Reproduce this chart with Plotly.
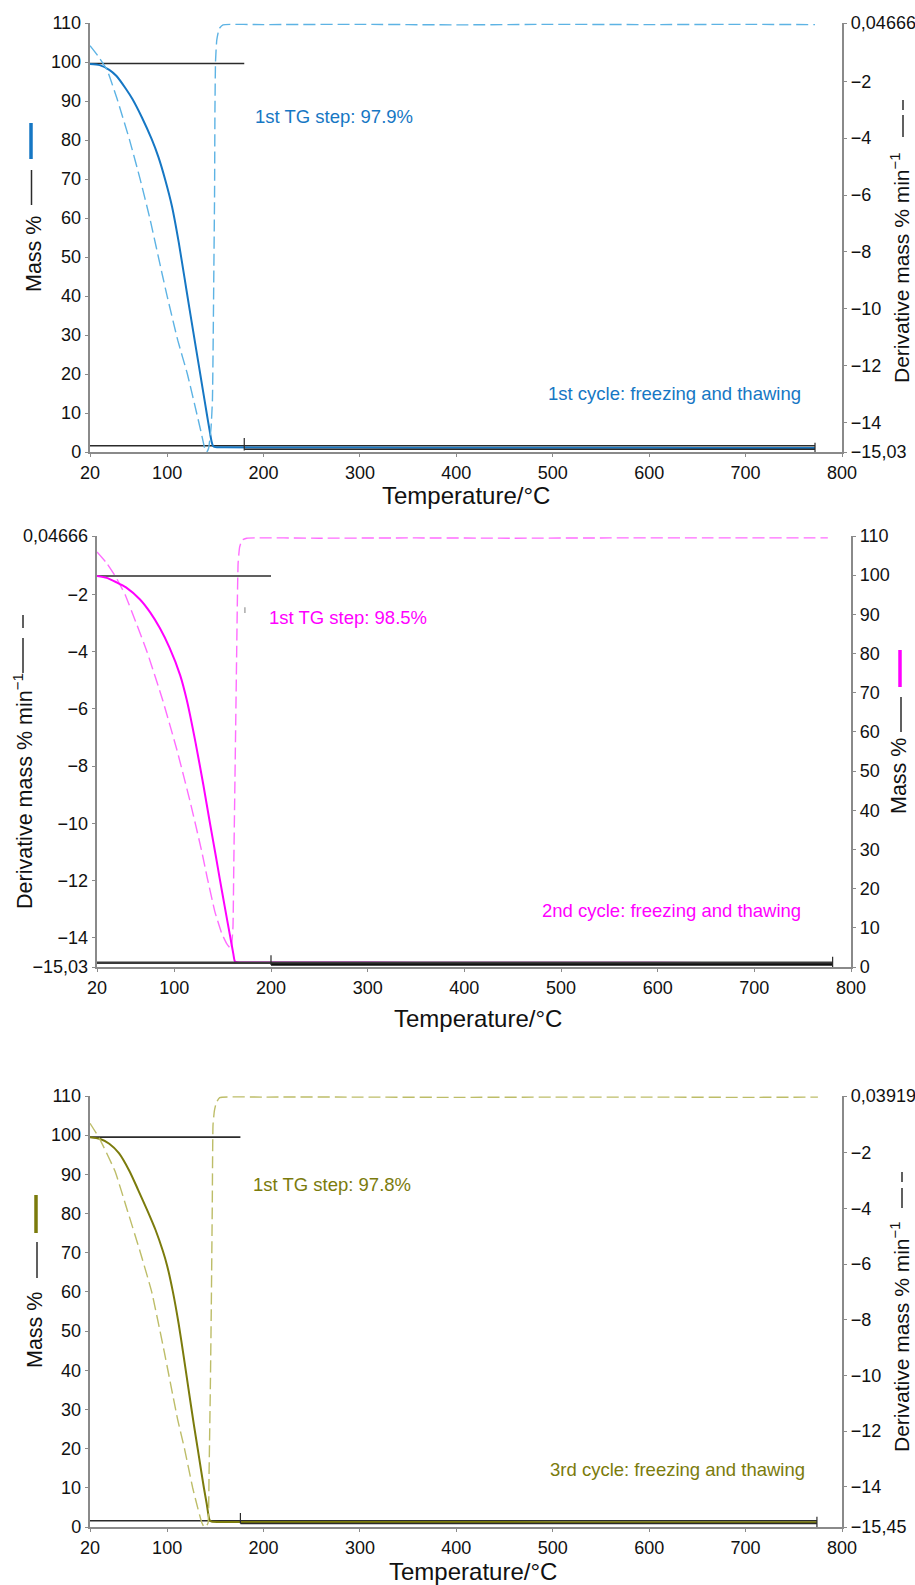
import plotly.graph_objects as go

W, H = 915, 1585

# ---------------- data ----------------
x_ticks = [20, 100, 200, 300, 400, 500, 600, 700, 800]
mass_ticks = [0, 10, 20, 30, 40, 50, 60, 70, 80, 90, 100, 110]

# Panel 1 (1st cycle)
p1_tg_T = [20, 30, 40, 47.5, 57, 64, 74, 84, 91, 98, 105, 112, 118, 123, 127.6, 133, 137, 141, 144, 146, 147.5, 150, 160, 250, 350, 450, 550, 650, 772]
p1_tg = [99.5, 99.2, 98.0, 96.4, 93.2, 90.5, 85.7, 80.2, 75.6, 69.8, 63.0, 53.8, 44.7, 37.0, 30.1, 22.0, 16.0, 10.0, 5.6, 2.8, 1.6, 1.25, 1.2, 1.15, 1.1, 1.1, 1.1, 1.05, 1.05]
p1_dtg_T = [20, 28, 37.6, 48, 61, 72, 82, 95, 100, 111, 121, 130.6, 135, 139, 141, 143, 145.5, 147, 147.8, 148.5, 149.2, 149.6, 150.2, 151.5, 154, 158, 200, 300, 400, 500, 600, 700, 772]
p1_dtg = [-0.75, -1.1, -1.6, -2.61, -4.06, -5.44, -6.81, -8.8, -9.55, -11.1, -12.29, -13.66, -14.3, -14.9, -15.03, -14.9, -14.2, -13.2, -11.0, -8.5, -6.0, -3.0, -1.3, -0.55, -0.15, -0.02, -0.01, 0.0, -0.02, 0.0, -0.01, 0.0, -0.01]
p1_dtg_ticks = [0.04666, -2, -4, -6, -8, -10, -12, -14, -15.03]
p1_dtg_ticktext = ["0,04666", "\u22122", "\u22124", "\u22126", "\u22128", "\u221210", "\u221212", "\u221214", "\u221215,03"]
p1_dtg_range = [-15.03, 0.04666]
p1_step_top_T = [20, 180]
p1_step_top = [99.6, 99.6]
p1_step_base_T = [20, 772]
p1_step_base = [1.6, 1.6]
p1_step_res_T = [180, 772]
p1_step_res = [0.7, 0.7]
p1_mark_a_T = [180, 180]
p1_mark_a = [0.4, 3.6]
p1_mark_b_T = [772, 772]
p1_mark_b = [0.0, 2.4]
p1_step_label = "1st TG step: 97.9%"
p1_cycle_label = "1st cycle: freezing and thawing"

# Panel 2 (2nd cycle)
p2_tg_T = [20, 30, 40, 50, 64.5, 75, 85, 95, 106, 113, 122, 130, 137, 143, 147, 152, 157.6, 161, 162.7, 165, 180, 250, 350, 450, 550, 650, 781]
p2_tg = [99.8, 99.3, 98.2, 96.9, 93.8, 90.5, 86.5, 81.5, 74.5, 68.0, 57.2, 46.5, 36.5, 28.2, 22.5, 15.6, 8.0, 3.4, 1.4, 1.2, 1.15, 1.15, 1.1, 1.1, 1.1, 1.05, 1.05]
p2_dtg_T = [20, 30, 40, 49, 60, 71.7, 88, 102.7, 116, 128, 134, 142, 149, 154, 158.6, 159.5, 160.7, 161.5, 162.5, 163.5, 164.5, 165.3, 166, 167.5, 170, 175, 250, 350, 450, 550, 650, 776]
p2_dtg = [-0.51, -0.9, -1.42, -2.0, -2.95, -4.0, -5.7, -7.44, -9.2, -10.93, -11.9, -13.1, -13.85, -14.2, -14.4, -14.2, -13.6, -11.5, -9.0, -6.5, -4.0, -2.0, -0.9, -0.35, -0.1, -0.03, -0.03, -0.02, -0.03, -0.02, -0.02, -0.02]
p2_dtg_ticks = [0.04666, -2, -4, -6, -8, -10, -12, -14, -15.03]
p2_dtg_ticktext = ["0,04666", "\u22122", "\u22124", "\u22126", "\u22128", "\u221210", "\u221212", "\u221214", "\u221215,03"]
p2_dtg_range = [-15.03, 0.04666]
p2_step_top_T = [20, 200]
p2_step_top = [99.8, 99.8]
p2_step_base_T = [20, 781]
p2_step_base = [1.1, 1.1]
p2_step_res_T = [200, 781]
p2_step_res = [0.6, 0.6]
p2_mark_a_T = [200, 200]
p2_mark_a = [0.5, 3.0]
p2_mark_b_T = [781, 781]
p2_mark_b = [0.0, 2.6]
p2_spike_T = [173, 173]
p2_spike = [-2.45, -2.65]
p2_step_label = "1st TG step: 98.5%"
p2_cycle_label = "2nd cycle: freezing and thawing"

# Panel 3 (3rd cycle)
p3_tg_T = [20, 30, 40, 50, 61, 70, 80, 88, 95.5, 100, 106, 112, 117, 122, 127.6, 131.7, 135, 138, 141, 144, 146, 160, 250, 350, 450, 550, 650, 774]
p3_tg = [99.5, 99.1, 97.8, 95.4, 90.8, 86.0, 80.5, 75.8, 70.5, 66.7, 60.0, 51.8, 43.8, 35.5, 26.3, 20.0, 14.8, 10.2, 6.0, 1.8, 1.4, 1.3, 1.3, 1.25, 1.25, 1.2, 1.2, 1.2]
p3_dtg_T = [20, 30, 45.9, 59, 71.7, 84, 97, 111, 118, 126.5, 132, 136, 138.5, 141, 142.5, 143.5, 144.8, 145.8, 146.8, 147.6, 149, 151, 154.5, 200, 300, 400, 500, 600, 700, 775]
p3_dtg = [-0.94, -1.5, -2.66, -4.1, -5.52, -7.0, -9.15, -11.6, -12.63, -14.04, -14.8, -15.3, -15.45, -15.4, -15.3, -13.5, -10.5, -7.6, -4.0, -1.0, -0.5, -0.2, -0.02, 0.0, 0.0, -0.01, 0.0, 0.0, -0.01, 0.0]
p3_dtg_ticks = [0.03919, -2, -4, -6, -8, -10, -12, -14, -15.45]
p3_dtg_ticktext = ["0,03919", "\u22122", "\u22124", "\u22126", "\u22128", "\u221210", "\u221212", "\u221214", "\u221215,45"]
p3_dtg_range = [-15.45, 0.03919]
p3_step_top_T = [20, 176]
p3_step_top = [99.5, 99.5]
p3_step_base_T = [20, 774]
p3_step_base = [1.6, 1.6]
p3_step_res_T = [176, 774]
p3_step_res = [0.9, 0.9]
p3_mark_a_T = [176, 176]
p3_mark_a = [0.9, 3.6]
p3_mark_b_T = [774, 774]
p3_mark_b = [0.0, 2.6]
p3_step_label = "1st TG step: 97.8%"
p3_cycle_label = "3rd cycle: freezing and thawing"

# ---------------- style ----------------
FONT = "Liberation Sans, Arial, Helvetica, sans-serif"
AXC = "#8a8a8a"
BLK = "#2b2b2b"
C1, C1D = "#1677c4", "#5db3e4"
C2, C2D = "#ff00ff", "#ff6cff"
C3, C3D = "#7b7b0c", "#bdbd68"
DASH = "12px,5px"


def fx(p):
    return p / W


def fy(p):
    return 1 - p / H


fig = go.Figure()


def line(x, y, xa, ya, color, width, dash="solid", smooth=None):
    ln = dict(color=color, width=width, dash=dash)
    if smooth:
        ln["shape"] = "spline"
        ln["smoothing"] = smooth
    fig.add_trace(go.Scatter(x=x, y=y, xaxis=xa, yaxis=ya, mode="lines",
                             line=ln, hoverinfo="skip", showlegend=False))


# Panel 1: mass on y (left), derivative on y2 (right)
line(p1_step_top_T, p1_step_top, "x", "y", BLK, 1.6)
line(p1_step_base_T, p1_step_base, "x", "y", BLK, 1.6)
line(p1_tg_T, p1_tg, "x", "y", C1, 2.0, smooth=0.6)
line(p1_step_res_T, p1_step_res, "x", "y", BLK, 1.6)
line(p1_mark_a_T, p1_mark_a, "x", "y", BLK, 1.2)
line(p1_mark_b_T, p1_mark_b, "x", "y", BLK, 1.2)
line(p1_dtg_T, p1_dtg, "x", "y2", C1D, 1.4, DASH, smooth=0.4)

# Panel 2: derivative on y3 (left), mass on y4 (right)
line(p2_dtg_T, p2_dtg, "x2", "y3", C2D, 1.4, DASH, smooth=0.4)
line(p2_spike_T, p2_spike, "x2", "y3", "#aaaaaa", 1.5)
line(p2_step_top_T, p2_step_top, "x2", "y4", BLK, 1.6)
line(p2_tg_T, p2_tg, "x2", "y4", C2, 2.0, smooth=0.6)
line(p2_step_base_T, p2_step_base, "x2", "y4", "#3a3a3a", 2.4)
line(p2_step_res_T, p2_step_res, "x2", "y4", "#111111", 2.4)
line(p2_mark_a_T, p2_mark_a, "x2", "y4", BLK, 1.2)
line(p2_mark_b_T, p2_mark_b, "x2", "y4", BLK, 1.2)

# Panel 3: mass on y5 (left), derivative on y6 (right)
line(p3_step_top_T, p3_step_top, "x3", "y5", BLK, 1.6)
line(p3_step_base_T, p3_step_base, "x3", "y5", BLK, 1.6)
line(p3_tg_T, p3_tg, "x3", "y5", C3, 2.0, smooth=0.6)
line(p3_step_res_T, p3_step_res, "x3", "y5", BLK, 1.6)
line(p3_mark_a_T, p3_mark_a, "x3", "y5", BLK, 1.2)
line(p3_mark_b_T, p3_mark_b, "x3", "y5", BLK, 1.2)
line(p3_dtg_T, p3_dtg, "x3", "y6", C3D, 1.4, DASH, smooth=0.4)

tickfont = dict(family=FONT, size=18, color="#111111")
base = dict(showgrid=False, zeroline=False, showline=True, linecolor=AXC, linewidth=1.5,
            ticks="outside", tickwidth=1.2, tickcolor=AXC, tickfont=tickfont, automargin=False)
xcommon = dict(base, ticklen=3.5)
ycommon = dict(base, ticklen=3.5)

P1 = dict(x=(90, 842), y=(23, 452))
P2 = dict(x=(97, 851), y=(536, 967))
P3 = dict(x=(90, 842), y=(1096, 1527))


def xdom(P):
    return [fx(P["x"][0]), fx(P["x"][1])]


def ydom(P):
    return [fy(P["y"][1]), fy(P["y"][0])]


fig.update_layout(
    width=W, height=H, margin=dict(l=0, r=0, t=0, b=0, autoexpand=False),
    paper_bgcolor="white", plot_bgcolor="white", showlegend=False,
    font=dict(family=FONT, color="#111111"),
    xaxis=dict(domain=xdom(P1), anchor="y", range=[20, 800], tickvals=x_ticks, **xcommon),
    yaxis=dict(domain=ydom(P1), anchor="x", range=[0, 110], tickvals=mass_ticks, side="left", **ycommon),
    yaxis2=dict(overlaying="y", anchor="x", side="right", range=p1_dtg_range, tickvals=p1_dtg_ticks, ticktext=p1_dtg_ticktext, **ycommon),
    xaxis2=dict(domain=xdom(P2), anchor="y3", range=[20, 800], tickvals=x_ticks, **xcommon),
    yaxis3=dict(domain=ydom(P2), anchor="x2", side="left", range=p2_dtg_range, tickvals=p2_dtg_ticks, ticktext=p2_dtg_ticktext, **ycommon),
    yaxis4=dict(overlaying="y3", anchor="x2", side="right", range=[0, 110], tickvals=mass_ticks, **ycommon),
    xaxis3=dict(domain=xdom(P3), anchor="y5", range=[20, 800], tickvals=x_ticks, **xcommon),
    yaxis5=dict(domain=ydom(P3), anchor="x3", side="left", range=[0, 110], tickvals=mass_ticks, **ycommon),
    yaxis6=dict(overlaying="y5", anchor="x3", side="right", range=p3_dtg_range, tickvals=p3_dtg_ticks, ticktext=p3_dtg_ticktext, **ycommon),
)

LABEL = 18.5
XT = 24
YT = 21.5


def ann(text, x, y, size=YT, color="#111111", angle=0, xanchor="center", yanchor="middle"):
    fig.add_annotation(text=text, x=fx(x), y=fy(y), xref="paper", yref="paper",
                       showarrow=False, textangle=angle, xanchor=xanchor, yanchor=yanchor,
                       font=dict(family=FONT, size=size, color=color))


def seg(x, y0, y1, color, width):
    fig.add_shape(type="line", xref="paper", yref="paper", x0=fx(x), x1=fx(x),
                  y0=fy(y0), y1=fy(y1), line=dict(color=color, width=width))


DERIV = "Derivative mass % min<sup>\u22121</sup>"

# Panel 1 titles
ann("Temperature/\u00b0C", 466, 495, size=XT)
ann("Mass %", 34, 254, angle=-90)
seg(31.5, 170, 205, BLK, 1.5)
seg(31, 123, 159, C1, 3.5)
ann(DERIV, 900, 268, angle=-90, size=21)
seg(903, 115, 137, BLK, 1.5)
seg(903, 100, 110, BLK, 1.5)
ann(p1_step_label, 253, 117, size=LABEL, color=C1, xanchor="left")
ann(p1_cycle_label, 803, 393, size=LABEL, color=C1, xanchor="right")

# Panel 2 titles
ann("Temperature/\u00b0C", 478, 1018, size=XT)
ann(DERIV, 23, 791, angle=-90)
seg(23, 638, 673, BLK, 1.5)
seg(23, 615, 628, BLK, 1.5)
ann("Mass %", 899, 776, angle=-90)
seg(901, 697, 732, BLK, 1.5)
seg(900, 650, 687, C2, 3.5)
ann(p2_step_label, 267, 618, size=LABEL, color=C2, xanchor="left")
ann(p2_cycle_label, 803, 910, size=LABEL, color=C2, xanchor="right")

# Panel 3 titles
ann("Temperature/\u00b0C", 473, 1571, size=XT)
ann("Mass %", 35, 1330, angle=-90)
seg(37, 1242, 1278, BLK, 1.5)
seg(36, 1195, 1233, C3, 3.5)
ann(DERIV, 900, 1337, angle=-90, size=21)
seg(902, 1188, 1208, BLK, 1.5)
seg(902, 1172, 1182, BLK, 1.5)
ann(p3_step_label, 251, 1184, size=LABEL, color=C3, xanchor="left")
ann(p3_cycle_label, 807, 1469, size=LABEL, color=C3, xanchor="right")

fig.write_html(
    "out.html",
    config={"displayModeBar": False},
    post_script="document.body.style.margin='0';document.body.style.overflow='hidden';",
)
